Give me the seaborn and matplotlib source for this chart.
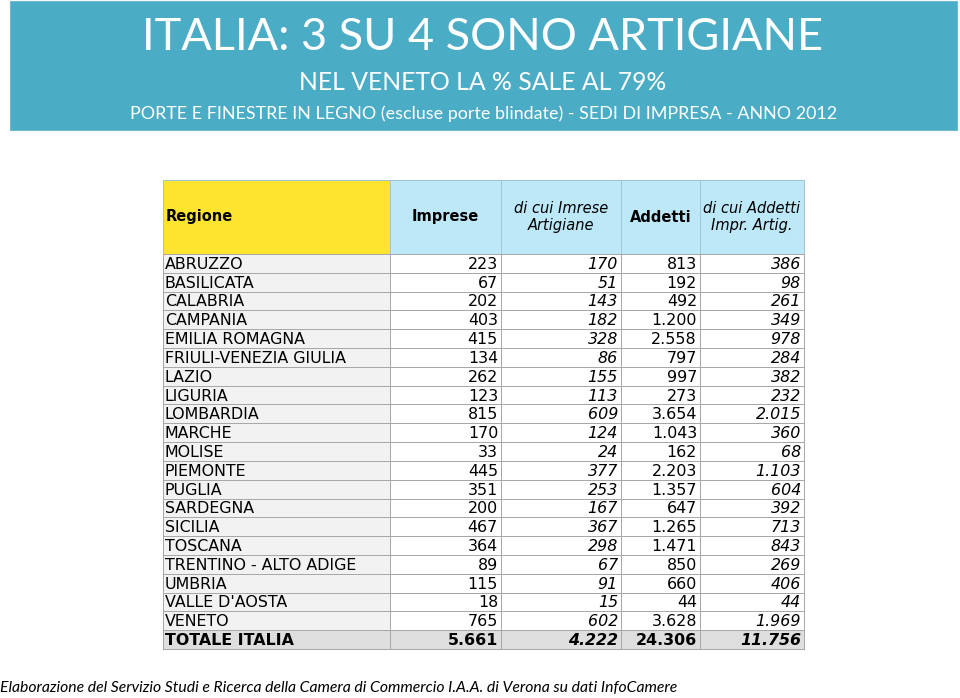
import numpy as np
import pandas as pd
import seaborn as sns
import matplotlib.pyplot as plt
from matplotlib.colors import ListedColormap
from matplotlib.patches import Rectangle

W, H = 960, 698

regioni = ["ABRUZZO", "BASILICATA", "CALABRIA", "CAMPANIA", "EMILIA ROMAGNA",
           "FRIULI-VENEZIA GIULIA", "LAZIO", "LIGURIA", "LOMBARDIA", "MARCHE",
           "MOLISE", "PIEMONTE", "PUGLIA", "SARDEGNA", "SICILIA", "TOSCANA",
           "TRENTINO - ALTO ADIGE", "UMBRIA", "VALLE D'AOSTA", "VENETO"]
imprese = [223, 67, 202, 403, 415, 134, 262, 123, 815, 170,
           33, 445, 351, 200, 467, 364, 89, 115, 18, 765]
imprese_art = [170, 51, 143, 182, 328, 86, 155, 113, 609, 124,
               24, 377, 253, 167, 367, 298, 67, 91, 15, 602]
addetti = [813, 192, 492, 1200, 2558, 797, 997, 273, 3654, 1043,
           162, 2203, 1357, 647, 1265, 1471, 850, 660, 44, 3628]
addetti_art = [386, 98, 261, 349, 978, 284, 382, 232, 2015, 360,
               68, 1103, 604, 392, 713, 843, 269, 406, 44, 1969]
totale_label = "TOTALE ITALIA"
totale = [5661, 4222, 24306, 11756]

headers = ["Regione", "Imprese", "di cui Imrese\nArtigiane", "Addetti", "di cui Addetti\nImpr. Artig."]
header_italic = [False, False, True, False, True]
header_bold = [True, True, False, True, False]
col_italic = [False, False, True, False, True]

df = pd.DataFrame({
    "Regione": regioni + [totale_label],
    "Imprese": imprese + [totale[0]],
    "Artigiane": imprese_art + [totale[1]],
    "Addetti": addetti + [totale[2]],
    "AddettiArt": addetti_art + [totale[3]],
})

# layout in pixels
col_edges = [163, 390, 501, 621, 700, 804]
head_top, head_bot, body_bot = 180, 254, 649
n_rows = len(df)

BODY_FONT = 11.4
LINE = "#a8a8a8"


def px_box(x0, y0, x1, y1):
    return [x0 / W, 1 - y1 / H, (x1 - x0) / W, (y1 - y0) / H]


def fmt(v):
    return f"{v:,}".replace(",", ".")


sns.set_theme(style="white")
plt.rcParams["font.family"] = ["DejaVu Sans"]

fig = plt.figure(figsize=(W / 100, H / 100), dpi=100)

# banner
fig.add_artist(Rectangle((10 / W, 1 - 130 / H), 947 / W, 129 / H,
                         transform=fig.transFigure, facecolor="#4bacc6",
                         edgecolor="#6fbdd2", linewidth=0.8))
fig.text(483 / W, 1 - 38 / H, "ITALIA: 3 SU 4 SONO ARTIGIANE", ha="center", va="center",
         color="white", fontsize=32.5, family="Lato")
fig.text(483 / W, 1 - 83 / H, "NEL VENETO LA % SALE AL 79%", ha="center", va="center",
         color="white", fontsize=17.8, family="Lato")
fig.text(484 / W, 1 - 114 / H,
         "PORTE E FINESTRE IN LEGNO (escluse porte blindate) - SEDI DI IMPRESA - ANNO 2012",
         ha="center", va="center", color="white", fontsize=12.9, family="Lato")

body_cmap = ListedColormap(["#f2f2f2", "#ffffff", "#dedede"])
head_cmap = ListedColormap(["#fde42f", "#bde8f8"])

for j, col in enumerate(df.columns):
    x0, x1 = col_edges[j], col_edges[j + 1]
    cw = x1 - x0

    # header cell
    axh = fig.add_axes(px_box(x0, head_top, x1, head_bot))
    sns.heatmap(np.array([[0 if j == 0 else 1]]), cmap=head_cmap, vmin=0, vmax=1,
                cbar=False, linewidths=0.7, linecolor="#a3c4d2", ax=axh,
                xticklabels=False, yticklabels=False)
    axh.collections[0].set_clip_on(False)
    if j == 0:
        axh.text(3 / cw, 0.5, headers[j], ha="left", va="center", fontsize=10.5,
                 fontweight="bold", color="black")
    else:
        axh.text(0.5, 0.5, headers[j], ha="center", va="center", fontsize=10.5,
                 fontweight="bold" if header_bold[j] else "normal",
                 fontstyle="italic" if header_italic[j] else "normal",
                 color="black", linespacing=1.15)

    # body column
    codes = np.array([[0 if j == 0 else 1] for _ in range(n_rows - 1)] + [[2]])
    axb = fig.add_axes(px_box(x0, head_bot, x1, body_bot))
    sns.heatmap(codes, cmap=body_cmap, vmin=0, vmax=2, cbar=False,
                linewidths=0.7, linecolor=LINE, ax=axb,
                xticklabels=False, yticklabels=False)
    axb.collections[0].set_clip_on(False)

    for i, v in enumerate(df[col]):
        total_row = i == n_rows - 1
        weight = "bold" if total_row else "normal"
        if j == 0:
            axb.text(2 / cw, i + 0.55, v, ha="left", va="center", fontsize=BODY_FONT,
                     fontweight=weight, color="black")
        else:
            axb.text(1 - 3 / cw, i + 0.55, fmt(v), ha="right", va="center",
                     fontsize=BODY_FONT, fontweight=weight,
                     fontstyle="italic" if col_italic[j] else "normal", color="black")

fig.text(0 / W, 1 - 688 / H,
         "Elaborazione del Servizio Studi e Ricerca della Camera di Commercio I.A.A. di Verona su dati InfoCamere",
         ha="left", va="center", fontsize=11.3, fontstyle="italic", family="Lato", color="black")

fig.savefig("out.png", dpi=100)
